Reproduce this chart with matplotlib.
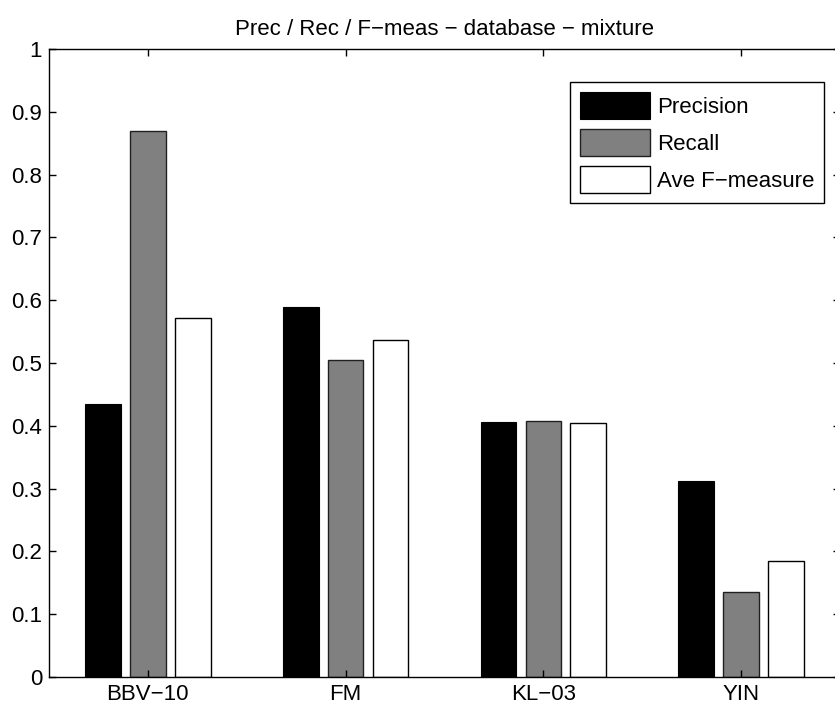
import numpy as np
import matplotlib
matplotlib.use("Agg")
import matplotlib.pyplot as plt

plt.rcParams['font.family'] = ['Liberation Sans', 'DejaVu Sans']

# data
methods = ["BBV\u221210", "FM", "KL\u221203", "YIN"]
precision = [0.434, 0.589, 0.406, 0.312]
recall = [0.870, 0.505, 0.408, 0.135]
fmeasure = [0.572, 0.537, 0.404, 0.185]
series_names = ["Precision", "Recall", "Ave F\u2212measure"]
yticks = [0, 0.1, 0.2, 0.3, 0.4, 0.5, 0.6, 0.7, 0.8, 0.9, 1]

fig = plt.figure(figsize=(8.35, 7.04), dpi=100)
# axes run a bit past the right edge of the picture (cropped in the original)
ax = fig.add_axes([49 / 835, 27 / 704, 791 / 835, 628 / 704])

x = np.arange(1, len(methods) + 1)
w = 0.18
off = 0.227
ax.bar(x - off, precision, w, color="black", edgecolor="black", linewidth=0.8, label=series_names[0])
ax.bar(x, recall, w, color="#808080", edgecolor="#202020", linewidth=1.0, label=series_names[1])
ax.bar(x + off, fmeasure, w, color="white", edgecolor="black", linewidth=1.0, label=series_names[2])

ax.set_xlim(0.5, 4.5)
ax.set_ylim(0, 1)
ax.set_xticks(x)
ax.set_xticklabels(methods)
ax.set_yticks(yticks)
ax.set_yticklabels([("%g" % t) for t in yticks])
ax.tick_params(direction="in", top=True, right=True, length=5, labelsize=16, width=1)
ax.tick_params(axis="y", pad=5)
ax.tick_params(axis="x", pad=5)
for s in ax.spines.values():
    s.set_linewidth(1.0)

ax.set_title("Prec / Rec / F\u2212meas \u2212 database \u2212 mixture", fontsize=16, pad=10)

# legend box: right edge at x=824, top at y=82 px
leg = ax.legend(loc="upper right", bbox_to_anchor=((824 - 49) / 791, (677 - 82) / 628),
                fontsize=16, fancybox=False, edgecolor="black", framealpha=1,
                handlelength=3.15, handleheight=1.5, borderpad=0.45, labelspacing=0.45,
                handletextpad=0.32, borderaxespad=0)
leg.get_frame().set_linewidth(1.0)

fig.savefig("out.png", dpi=100)
